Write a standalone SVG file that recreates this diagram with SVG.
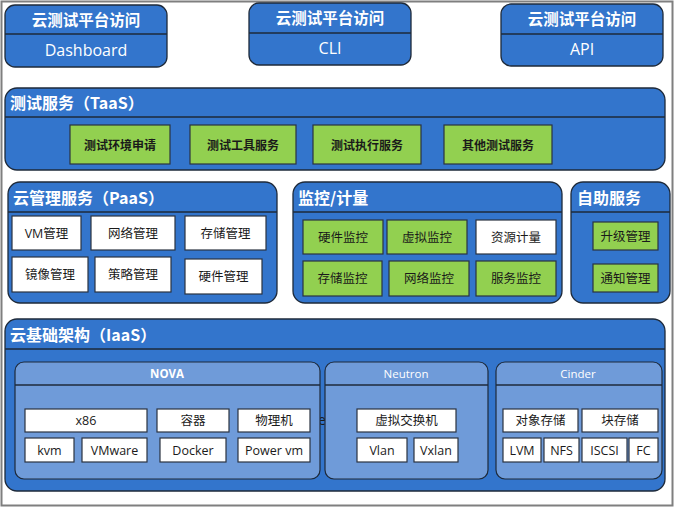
<svg xmlns="http://www.w3.org/2000/svg" width="674" height="508" viewBox="0 0 674 508">
<style>
.frame{fill:#fff;stroke:#7f7f7f;stroke-width:2}
.panel{fill:#3375cc;stroke:#1e2a3a;stroke-width:1.3}
.sub{fill:#6f9bd9;stroke:#1e2a3a;stroke-width:1.2}
.div{stroke:#1e2a3a;stroke-width:1.3;fill:none}
.g{fill:#92d050;stroke:#2a3340;stroke-width:1.2}
.w{fill:#fff;stroke:#2a3340;stroke-width:1.2}
text{font-family:"Segoe UI","Open Sans","Noto Sans CJK SC",sans-serif;dominant-baseline:central}
.ht{fill:#fff;font-weight:bold;font-size:15.5px;text-anchor:middle;font-family:"Noto Sans CJK SC",sans-serif}
.hs{fill:#fff;font-size:16px;text-anchor:middle}
.pt{fill:#fff;font-weight:bold;font-size:16px;font-family:"Noto Sans CJK SC",sans-serif}
.gt{fill:#1a1a1a;font-weight:bold;font-size:12px;text-anchor:middle;font-family:"Noto Sans CJK SC",sans-serif}
.bt{fill:#1a1a1a;font-size:12.5px;text-anchor:middle;font-family:"Open Sans","Noto Sans CJK SC",sans-serif}
.st{fill:#fff;font-size:11.5px;text-anchor:middle}
</style>
<rect class="frame" x="1.5" y="1.5" width="671" height="504"/>

<g id="access-dashboard">
<rect class="panel" x="5" y="5" width="162" height="62" rx="10"/>
<line class="div" x1="5" y1="34" x2="167" y2="34"/>
<text class="ht" x="86" y="19">云测试平台访问</text>
<text class="hs" x="86" y="50">Dashboard</text>
</g>
<g id="access-cli">
<rect class="panel" x="249" y="3" width="162" height="62" rx="10"/>
<line class="div" x1="249" y1="33" x2="411" y2="33"/>
<text class="ht" x="330" y="17">云测试平台访问</text>
<text class="hs" x="330" y="48">CLI</text>
</g>
<g id="access-api">
<rect class="panel" x="501" y="4" width="162" height="62" rx="10"/>
<line class="div" x1="501" y1="34" x2="663" y2="34"/>
<text class="ht" x="582" y="18">云测试平台访问</text>
<text class="hs" x="582" y="49">API</text>
</g>

<g id="taas">
<rect class="panel" x="5" y="88" width="660" height="82" rx="12"/>
<line class="div" x1="5" y1="117" x2="665" y2="117"/>
<text class="pt" x="10" y="102">测试服务（TaaS）</text>
<rect class="g" x="70" y="125" width="100" height="39"/>
<text class="gt" x="120" y="144.5">测试环境申请</text>
<rect class="g" x="190" y="125" width="106" height="39"/>
<text class="gt" x="243" y="144.5">测试工具服务</text>
<rect class="g" x="313" y="125" width="108" height="39"/>
<text class="gt" x="367" y="144.5">测试执行服务</text>
<rect class="g" x="444" y="125" width="108" height="39"/>
<text class="gt" x="498" y="144.5">其他测试服务</text>
</g>

<g id="paas">
<rect class="panel" x="8" y="182" width="269" height="121" rx="12"/>
<line class="div" x1="8" y1="212" x2="277" y2="212"/>
<text class="pt" x="13" y="197">云管理服务（PaaS）</text>
<rect class="w" x="12" y="216" width="69" height="34"/>
<text class="bt" x="46.5" y="233">VM管理</text>
<rect class="w" x="91" y="216" width="84" height="34"/>
<text class="bt" x="133" y="233">网络管理</text>
<rect class="w" x="185" y="216" width="81" height="34"/>
<text class="bt" x="225.5" y="233">存储管理</text>
<rect class="w" x="12" y="257" width="76" height="35"/>
<text class="bt" x="50" y="274.5">镜像管理</text>
<rect class="w" x="95" y="257" width="76" height="35"/>
<text class="bt" x="133" y="274.5">策略管理</text>
<rect class="w" x="185" y="259" width="77" height="35"/>
<text class="bt" x="223.5" y="276.5">硬件管理</text>
</g>

<g id="monitor">
<rect class="panel" x="293" y="182" width="269" height="121" rx="12"/>
<line class="div" x1="293" y1="212" x2="562" y2="212"/>
<text class="pt" x="298" y="197">监控/计量</text>
<rect class="g" x="303" y="220" width="80" height="34"/>
<text class="bt" x="343" y="237">硬件监控</text>
<rect class="g" x="387" y="220" width="80" height="34"/>
<text class="bt" x="427" y="237">虚拟监控</text>
<rect class="w" x="476" y="220" width="80" height="34"/>
<text class="bt" x="516" y="237">资源计量</text>
<rect class="g" x="303" y="261" width="79" height="35"/>
<text class="bt" x="342.5" y="278.5">存储监控</text>
<rect class="g" x="389" y="261" width="80" height="35"/>
<text class="bt" x="429" y="278.5">网络监控</text>
<rect class="g" x="476" y="261" width="80" height="35"/>
<text class="bt" x="516" y="278.5">服务监控</text>
</g>

<g id="selfservice">
<rect class="panel" x="571" y="182" width="99" height="121" rx="12"/>
<line class="div" x1="571" y1="212" x2="670" y2="212"/>
<text class="pt" x="577" y="197">自助服务</text>
<rect class="g" x="593" y="222" width="65" height="28"/>
<text class="bt" x="625.5" y="236">升级管理</text>
<rect class="g" x="593" y="264" width="65" height="28"/>
<text class="bt" x="625.5" y="278">通知管理</text>
</g>

<g id="iaas">
<rect class="panel" x="5" y="319" width="660" height="172" rx="12"/>
<line class="div" x1="5" y1="349" x2="665" y2="349"/>
<text class="pt" x="10" y="334">云基础架构（IaaS）</text>
<text x="318" y="419" style="fill:#1a1a1a;font-size:14px">e</text>
</g>

<g id="nova">
<rect class="sub" x="15" y="362" width="305" height="117" rx="9"/>
<line class="div" x1="15" y1="385" x2="320" y2="385"/>
<text class="st" x="167" y="373" style="font-weight:bold">NOVA</text>
<rect class="w" x="25" y="409" width="122" height="23"/>
<text class="bt" x="86" y="420.5">x86</text>
<rect class="w" x="157" y="409" width="72" height="23"/>
<text class="bt" x="193" y="420.5">容器</text>
<rect class="w" x="238" y="409" width="72" height="23"/>
<text class="bt" x="274" y="420.5">物理机</text>
<rect class="w" x="25" y="438" width="49" height="24"/>
<text class="bt" x="49.5" y="450">kvm</text>
<rect class="w" x="82" y="438" width="65" height="24"/>
<text class="bt" x="114.5" y="450">VMware</text>
<rect class="w" x="160" y="438" width="66" height="24"/>
<text class="bt" x="193" y="450">Docker</text>
<rect class="w" x="238" y="438" width="72" height="24"/>
<text class="bt" x="274" y="450">Power vm</text>
</g>

<g id="neutron">
<rect class="sub" x="325" y="362" width="163" height="117" rx="9"/>
<line class="div" x1="325" y1="385" x2="488" y2="385"/>
<text class="st" x="406" y="373">Neutron</text>
<rect class="w" x="357" y="409" width="99" height="23"/>
<text class="bt" x="406.5" y="420.5">虚拟交换机</text>
<rect class="w" x="357" y="438" width="50" height="24"/>
<text class="bt" x="382" y="450">Vlan</text>
<rect class="w" x="414" y="438" width="44" height="24"/>
<text class="bt" x="436" y="450">Vxlan</text>
</g>

<g id="cinder">
<rect class="sub" x="496" y="362" width="166" height="117" rx="9"/>
<line class="div" x1="496" y1="385" x2="662" y2="385"/>
<text class="st" x="578" y="373">Cinder</text>
<rect class="w" x="503" y="409" width="75" height="23"/>
<text class="bt" x="540.5" y="420.5">对象存储</text>
<rect class="w" x="582" y="409" width="76" height="23"/>
<text class="bt" x="620" y="420.5">块存储</text>
<rect class="w" x="503" y="438" width="38" height="24"/>
<text class="bt" x="522" y="450">LVM</text>
<rect class="w" x="544" y="438" width="35" height="24"/>
<text class="bt" x="561.5" y="450">NFS</text>
<rect class="w" x="582" y="438" width="45" height="24"/>
<text class="bt" x="604.5" y="450">ISCSI</text>
<rect class="w" x="629" y="438" width="29" height="24"/>
<text class="bt" x="643.5" y="450">FC</text>
</g>
<g id="connectors"/>
</svg>
